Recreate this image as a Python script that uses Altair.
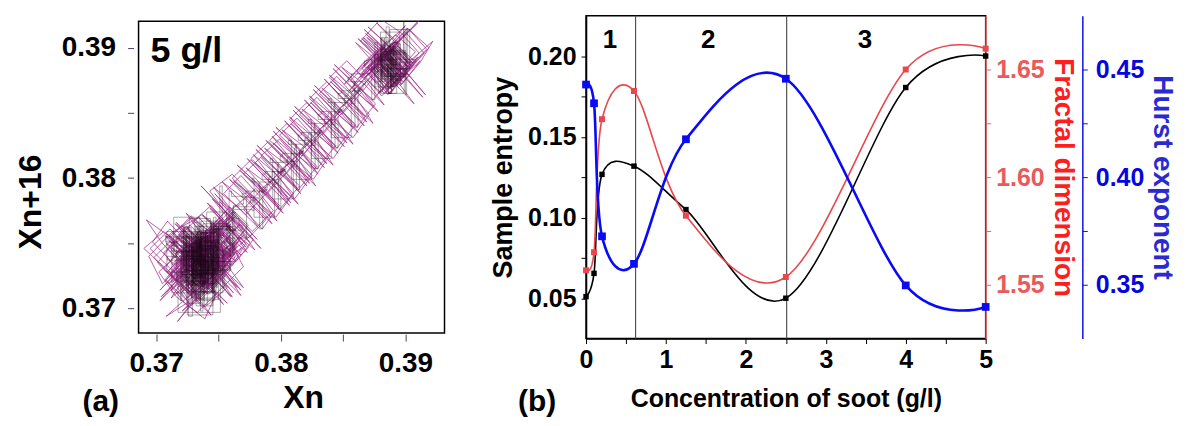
import altair as alt
import pandas as pd

FONT = "Liberation Sans"

# ---------------- panel (a): time series of the 5 g/l signal ----------------
# values in units of 1e-4 above 0.37  (0.37 + v/10000)
series_a = [
    32, 48, 25, 10, 31, 52, 40, 18, 3, 22, 45, 61, 38, 20, 35, 57, 44, 26, 8, 29,
    50, 66, 47, 30, 14, 33, 55, 39, 21, 42, 60, 43, 24, 5, -6, 12, 34, 51, 36, 17,
    28, 49, 63, 46, 27, 11, 30, 53, 37, 19, 40, 58, 70, 52, 33, 16, 2, 21, 43, 31,
    13, 26, 47, 59, 41, 23, 36, 54, 32, 15, -3, 9, 28, 45, 62, 49, 30, 18, 37, 56,
    42, 24, 7, 25, 44, 33, 51, 67, 48, 29, 12, 27, 46, 38, 20, 39, 57, 41, 22, 6,
    19, 35, 53, 64, 45, 28, 14, 32, 50, 36, 17, 1, 16, 37, 55, 43, 26, 40, 58, 47,
    30, 12, 24, 43, 61, 72, 54, 35, 21, 38, 52, 34, 15, 29, 48, 39, 23, 8, 26, 44,
    33, 50, 65, 49, 31, 17, 34, 53, 42, 25, 11, -8, 4, 22, 41, 30, 46, 60, 44, 27,
    13, 31, 47, 35, 18, 36, 55, 68, 51, 32, 20, 37, 24, 9, 27, 45, 58, 40, 23, 39,
    54, 43, 28, 10, 26, 42, 33, 49, 63, 46, 29, 15, 30, 48, 36, 19, 3, 18, 38, 52,
    41, 25, 37, 56, 70, 57, 40, 22, 34, 50, 38, 21, 6, 23, 44, 31, 47, 62, 45, 28,
    16, 33, 51, 39, 24, 41, 59, 48, 30, 14, -5, 11, 29, 43, 35, 53, 66, 50, 34, 20,
    36, 54, 42, 27, 12, 28, 46, 61, 44, 26, 39, 57, 40, 23, 7, 24, 42, 32, 49, 64,
    47, 31, 18, 35, 52, 37, 20, 4, 21, 40, 56, 45, 29, 43, 60, 74, 58, 39, 25, 38,
    55, 41, 24, 9, 26, 44, 34, 17, 31, 48, 63, 47, 30, 15, 32, 50, 38, 22, 40, 57,
    43, 27, 11, -10, 6, 25, 42, 33, 50, 65, 52, 35, 19, 36, 53, 41, 25, 10, 28, 46,
    59, 44, 29, 45, 61, 48, 32, 16, 30, 49, 37, 22, 38, 55, 69, 53, 36, 20, 34, 51,
    40, 23, 8, 24, 43, 56, 41, 27, 12, 29, 47, 35, 52, 64, 47, 31, 18, 33, 50, 39,
    21, 37, 54, 42, 26, 10, 27, 45, 60, 46, 29, 41, 57, 44, 28, 13, -2, 15, 34, 49,
    36, 19, 32, 51, 65, 50, 33, 17, 35, 52, 40, 24, 39, 55, 43, 27, 44, 61, 48, 31,
    16, 30, 47, 36, 53, 68, 54, 37, 22, 38, 56, 42, 25, 9, 27, 45, 34, 50, 63, 46,
    29, 14, 31, 49, 38, 21, 40, 58, 45, 28, 13, 30, 48, 62, 47, 32, 19, 35, 52, 41,
    24, 37, 55, 70, 53, 36, 20, 34, 51, 43, 27, 41, 59, 46, 30, 15, 33, 50, 39, 56,
    44, 28, 12, 27, 45, 60, 48, 32, 49, 65, 51, 36, 21, 38, 54, 42, 58, 71, 55, 40,
    26, 43, 61, 49, 34, 51, 67, 53, 38, 24, 41, 57, 45, 60, 74, 59, 43, 30, 47, 62,
    50, 68, 53, 37, 55, 73, 60, 44, 29, 47, 64, 78, 61, 45, 59, 75, 57, 41, 56, 72,
    58, 43, 61, 79, 66, 50, 36, 53, 70, 84, 68, 51, 65, 81, 63, 47, 62, 77, 60, 45,
    63, 80, 94, 77, 60, 46, 64, 82, 69, 53, 71, 88, 74, 57, 43, 61, 78, 92, 75, 59,
    76, 93, 79, 62, 80, 97, 84, 68, 54, 72, 90, 103, 86, 70, 85, 99, 81, 65, 83, 98,
    84, 67, 85, 102, 88, 72, 90, 107, 93, 76, 61, 79, 96, 110, 94, 78, 92, 106, 89, 73,
    91, 108, 95, 79, 97, 114, 100, 84, 70, 88, 105, 118, 101, 85, 99, 115, 97, 81, 98, 112,
    96, 80, 99, 116, 103, 87, 105, 121, 107, 90, 76, 94, 111, 125, 109, 93, 107, 122, 104, 88,
    106, 123, 110, 94, 112, 128, 115, 99, 84, 102, 119, 132, 116, 100, 114, 129, 111, 96, 113, 127,
    109, 94, 113, 130, 117, 101, 119, 135, 121, 105, 91, 109, 126, 139, 123, 107, 121, 136, 118, 103,
    120, 137, 124, 108, 126, 142, 129, 113, 99, 117, 134, 147, 131, 115, 129, 144, 126, 111, 128, 142,
    125, 110, 129, 146, 133, 117, 135, 151, 137, 121, 107, 125, 142, 155, 139, 123, 137, 152, 134, 119,
    136, 153, 140, 124, 142, 158, 145, 129, 115, 133, 150, 163, 147, 131, 145, 160, 142, 127, 144, 158,
    141, 126, 145, 162, 149, 133, 151, 167, 153, 137, 123, 141, 158, 171, 155, 139, 153, 168, 150, 135,
    152, 169, 156, 140, 158, 174, 161, 145, 131, 149, 166, 179, 163, 147, 161, 176, 158, 143, 160, 174,
    157, 142, 161, 178, 165, 149, 167, 183, 169, 153, 139, 157, 174, 187, 171, 155, 169, 184, 166, 151,
    168, 185, 172, 156, 174, 190, 177, 161, 180, 196, 183, 167, 185, 201, 188, 172, 190, 205, 191, 175,
    160, 178, 195, 182, 166, 184, 200, 214, 197, 181, 165, 183, 199, 186, 170, 188, 204, 190, 174, 192,
    208, 194, 178, 162, 180, 197, 184, 168, 186, 202, 216, 200, 184, 170, 187, 203, 189, 173, 191, 207,
    193, 177, 195, 211, 196, 180, 164, 182, 198, 185, 169, 187, 203, 189, 173, 157, 175, 192, 179, 196,
    212, 222, 205, 189, 174, 192, 208, 194, 178, 196, 182, 166, 184, 200, 187, 171, 189, 205, 191, 176,
    194, 210, 197, 181, 165, 183, 199, 186, 202, 217, 201, 185, 170, 188, 204, 190, 175, 193, 179, 163,
    181, 197, 184, 200, 215, 199, 183, 168, 186, 202, 188, 172, 190, 206, 192, 177, 195, 181, 197, 212,
    196, 180, 165, 183, 199, 185, 201, 186, 170, 188, 204, 219, 203, 187, 172, 190, 176, 192, 207, 193,
    178, 194, 180, 164, 182, 198, 184, 200, 214, 198, 183, 167, 185, 201, 187, 172, 190, 205, 191, 177,
    193, 179, 195, 210, 224, 208, 192, 177, 194, 180, 165, 183, 199, 186, 201, 187, 171, 189, 205, 219,
]
LAG = 16
xn = [0.37 + v / 10000 for v in series_a[:-LAG]]
xn16 = [0.37 + v / 10000 for v in series_a[LAG:]]
dfa = pd.DataFrame({"n": list(range(len(xn))), "x": xn, "y": xn16})

ticks_a = [0.37, 0.375, 0.38, 0.385, 0.39]

# ---------------- panel (b): measures vs concentration ----------------
conc = [0, 0.1, 0.2, 0.6, 1.25, 2.5, 4, 5]
entropy = [0.051, 0.0654, 0.1267, 0.1318, 0.1049, 0.050, 0.1805, 0.200]
fractal = [1.5567, 1.5651, 1.6269, 1.640, 1.5821, 1.5536, 1.650, 1.6597]
hurst = [0.443, 0.4343, 0.3725, 0.3597, 0.4176, 0.4457, 0.3497, 0.3397]
boundaries = [0.62, 2.51]
region_pos = [0.3, 1.53, 3.49]
region_lbl = ["1", "2", "3"]

dfb = pd.DataFrame({"c": conc, "e": entropy, "f": fractal, "h": hurst})
dfr = pd.DataFrame({"c": boundaries})
dft = pd.DataFrame({"c": region_pos, "t": region_lbl})

lab2 = "abs(datum.value*20 - round(datum.value*20)) < 0.001 ? format(datum.value, '.2f') : ''"
lab_a = "abs(datum.value*100 - round(datum.value*100)) < 0.001 ? format(datum.value, '.2f') : ''"

# ---------- chart (a) ----------
xs_a = alt.Scale(domain=[0.36858, 0.39314], nice=False, zero=False)
ys_a = alt.Scale(domain=[0.36811, 0.39204], nice=False, zero=False)

xaxis_a = alt.Axis(values=ticks_a, labelExpr=lab_a, title="Xn", domain=False, offset=1,
                   tickSize=7, tickColor="#5a3a66", labelFontSize=28, labelPadding=9,
                   labelFontWeight="bold", titleFontSize=32, titlePadding=5, titleX=165,
                   labelFlush=False, grid=False)
yaxis_a = alt.Axis(values=ticks_a, labelExpr=lab_a, title="Xn+16", domain=False, offset=5,
                   tickSize=6, tickColor="#5a3a66", labelFontSize=28, labelPadding=12,
                   labelFontWeight="bold", titleFontSize=32, titlePadding=14, titleY=181,
                   labelFlush=False, grid=False)

base_a = alt.Chart(dfa)
purple = base_a.mark_line(color="#a0308c", strokeWidth=0.75, clip=True).encode(
    x=alt.X("x:Q", scale=xs_a, axis=xaxis_a),
    y=alt.Y("y:Q", scale=ys_a, axis=yaxis_a),
    order="n:Q",
)
dark = base_a.transform_filter("datum.n % 2 == 0").mark_line(
    color="#1a0818", strokeWidth=0.7, opacity=0.5, interpolate="step", clip=True
).encode(x=alt.X("x:Q", scale=xs_a), y=alt.Y("y:Q", scale=ys_a), order="n:Q")

txt_a = alt.Chart(pd.DataFrame({"t": ["5 g/l"]})).mark_text(
    font=FONT, fontSize=36, fontWeight="bold", align="left", baseline="alphabetic", color="black"
).encode(x=alt.value(12), y=alt.value(41), text="t:N")
tag_a = alt.Chart(pd.DataFrame({"t": ["(a)"]})).mark_text(
    font=FONT, fontSize=30, fontWeight="bold", align="center", baseline="alphabetic", color="black"
).encode(x=alt.value(-38), y=alt.value(391), text="t:N")

panel_a = alt.layer(purple, dark, txt_a, tag_a).properties(width=307, height=313)

# ---------- chart (b) ----------
xs_b = alt.Scale(domain=[0, 5], nice=False, zero=False)
xaxis_b = alt.Axis(values=[0, 0.5, 1, 1.5, 2, 2.5, 3, 3.5, 4, 4.5, 5],
                   labelExpr="datum.value % 1 == 0 ? format(datum.value, 'd') : ''",
                   title="Concentration of soot (g/l)", tickSize=5, labelFontSize=25,
                   labelFontWeight="bold", labelPadding=4, titleFontSize=25, titlePadding=14,
                   domainColor="black", tickColor="black", labelFlush=False, domainWidth=1.5,
                   grid=False)


def x_enc(axis=None):
    if axis is None:
        return alt.X("c:Q", scale=xs_b)
    return alt.X("c:Q", scale=xs_b, axis=axis)


ye_axis = alt.Axis(values=[0.05, 0.075, 0.1, 0.125, 0.15, 0.175, 0.2], labelExpr=lab2,
                   title="Sample entropy", tickSize=5, labelFontSize=25, labelFontWeight="bold",
                   labelPadding=5, titleFontSize=27, titlePadding=10, domainColor="black",
                   tickColor="black", domainWidth=1.5, grid=False)
yf_axis = alt.Axis(values=[1.55, 1.575, 1.6, 1.625, 1.65], labelExpr=lab2, orient="right",
                   title="Fractal dimension", tickSize=5, labelFontSize=25, labelFontWeight="bold",
                   labelPadding=5, titleFontSize=28, titlePadding=4, domainColor="#e06464",
                   tickColor="#e06464", labelColor="#e85a5c", titleColor="#ff1e1e",
                   domainWidth=1.5, grid=False)
yh_axis = alt.Axis(values=[0.35, 0.375, 0.4, 0.425, 0.45], labelExpr=lab2,
                   orient="right", offset=97, title="Hurst exponent", tickSize=5,
                   labelFontSize=25, labelFontWeight="bold", labelPadding=8, titleFontSize=28,
                   titlePadding=4, domainColor="#1010e8", tickColor="#1010e8",
                   labelColor="#0505e0", titleColor="#2a2ad0", domainWidth=1.5, grid=False)

INTERP = "cardinal"
cb = alt.Chart(dfb)
e_layer = alt.layer(
    cb.mark_line(color="black", strokeWidth=1.6, interpolate=INTERP).encode(
        x=x_enc(xaxis_b),
        y=alt.Y("e:Q", scale=alt.Scale(domain=[0.025, 0.225], nice=False, zero=False), axis=ye_axis)),
    cb.mark_square(color="black", size=30, opacity=1).encode(x=x_enc(), y="e:Q"),
)
f_layer = alt.layer(
    cb.mark_line(color="#e8474c", strokeWidth=1.6, interpolate=INTERP).encode(
        x=x_enc(),
        y=alt.Y("f:Q", scale=alt.Scale(domain=[1.525, 1.675], nice=False, zero=False), axis=yf_axis)),
    cb.mark_square(color="#e8474c", size=36, opacity=1).encode(x=x_enc(), y="f:Q"),
)
h_layer = alt.layer(
    cb.mark_line(color="#0a0af5", strokeWidth=2.6, interpolate=INTERP).encode(
        x=x_enc(),
        y=alt.Y("h:Q", scale=alt.Scale(domain=[0.325, 0.475], nice=False, zero=False), axis=yh_axis)),
    cb.mark_square(color="#0a0af5", size=60, opacity=1).encode(x=x_enc(), y="h:Q"),
)
rules = alt.Chart(dfr).mark_rule(color="#555555", strokeWidth=1.2).encode(x=x_enc())
regions = alt.Chart(dft).mark_text(
    font=FONT, fontSize=26, fontWeight="bold", baseline="alphabetic", color="black"
).encode(x=x_enc(), y=alt.value(32), text="t:N")
tag_b = alt.Chart(pd.DataFrame({"t": ["(b)"]})).mark_text(
    font=FONT, fontSize=30, fontWeight="bold", align="center", baseline="alphabetic", color="black"
).encode(x=alt.value(-49), y=alt.value(397), text="t:N")

panel_b = alt.layer(rules, e_layer, f_layer, h_layer, regions, tag_b).resolve_scale(
    y="independent").properties(width=401, height=324)

chart = alt.hconcat(panel_a, panel_b, spacing=142, bounds="flush", center=True).properties(
    padding={"left": 5, "top": 5, "right": 4, "bottom": 0}, background="white"
).configure_view(stroke="black", strokeWidth=1.5).configure_axis(
    labelFont=FONT, titleFont=FONT, labelFontWeight="bold", titleFontWeight="bold",
    labelColor="black", titleColor="black", grid=False
)

chart.save("out.html", embed_options={"renderer": "svg", "actions": False})
